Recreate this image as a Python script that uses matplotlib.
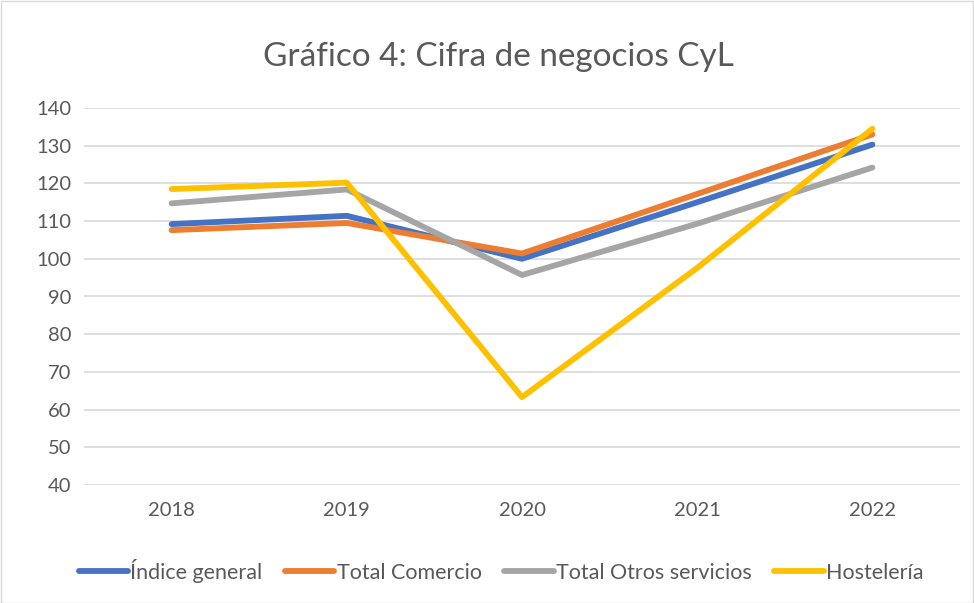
import matplotlib.pyplot as plt

years = ["2018", "2019", "2020", "2021", "2022"]
indice_general = [109.2, 111.4, 100.0, 115.0, 130.3]
total_comercio = [107.6, 109.5, 101.4, 117.2, 133.0]
otros_servicios = [114.7, 118.4, 95.7, 109.3, 124.2]
hosteleria = [118.5, 120.2, 63.3, 97.6, 134.5]
yticks = list(range(40, 141, 10))

plt.rcParams['font.family'] = ['Lato', 'DejaVu Sans']

fig = plt.figure(figsize=(9.74, 6.03), dpi=100)
ax = fig.add_axes([84/974, 1 - 485/603, 876/974, 377/603])

x = range(len(years))
series = [
  (indice_general, "#4472C4", "Índice general"),
  (total_comercio, "#ED7D31", "Total Comercio"),
  (otros_servicios, "#A5A5A5", "Total Otros servicios"),
  (hosteleria, "#FFC000", "Hostelería"),
]
for vals, col, lab in series:
  ax.plot(x, vals, color=col, lw=4.2, solid_capstyle="round", label=lab)

ax.set_xlim(-0.5, len(years) - 0.5)
ax.set_ylim(40, 140)
ax.set_yticks(yticks)
ax.set_xticks(list(x))
ax.set_xticklabels(years)
ax.grid(axis="y", color="#d9d9d9", lw=1.2)
ax.set_axisbelow(True)
for s in ax.spines.values():
  s.set_visible(False)
ax.tick_params(length=0, labelsize=14.5, colors="#595959")
ax.tick_params(axis="x", pad=12)
ax.tick_params(axis="y", pad=9)

fig.text(498/974, 1 - 57/603, "Gráfico 4: Cifra de negocios CyL", ha="center", va="center",
         fontsize=24, color="#595959")

ax.legend(loc="center", bbox_to_anchor=((501-84)/876, (485-571)/377), ncol=4, frameon=False,
          fontsize=15.5, labelcolor="#595959", handlelength=2.3, handletextpad=0.1, columnspacing=1.05)

fig.patches.append(plt.Rectangle((0.5/974, 0.5/603), 1 - 1.5/974, 1 - 1.5/603, transform=fig.transFigure,
                                 fill=False, edgecolor="#d9d9d9", lw=1))

plt.savefig("out.png", dpi=100)
